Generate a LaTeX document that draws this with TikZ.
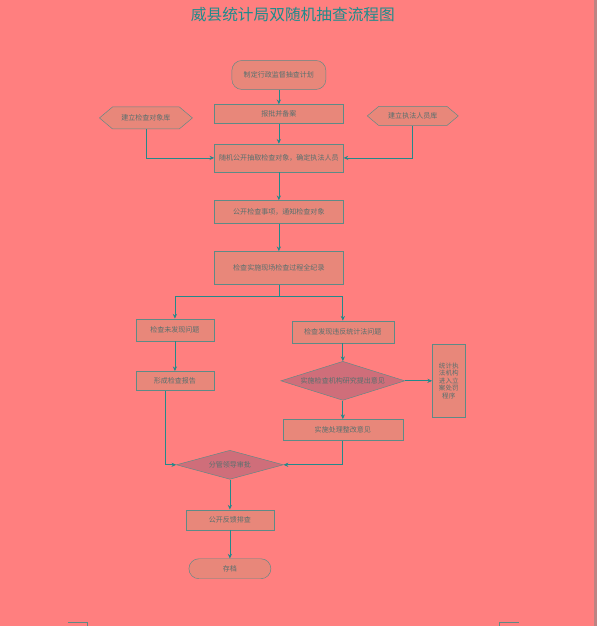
\documentclass[tikz,border=0pt]{standalone}
\usepackage{fontspec}
\setmainfont{Noto Sans CJK SC}
\usetikzlibrary{shapes.geometric,shapes.symbols,arrows.meta}
\definecolor{bgred}{HTML}{FF7F7F}
\definecolor{boxfill}{HTML}{E8877A}
\definecolor{diafill}{HTML}{CF6E7A}
\definecolor{boxline}{HTML}{5E8A86}
\definecolor{arrowteal}{HTML}{23898A}
\definecolor{txtgray}{HTML}{56706E}
\definecolor{titleteal}{HTML}{1E8C8C}
\begin{document}
\begin{tikzpicture}[x=0.03cm, y=-0.03cm,
    >={Stealth[length=4pt,width=3.6pt]},
    proc/.style={draw=boxline, rectangle, fill=boxfill, text=txtgray,
                 minimum width=3.87cm, minimum height=0.57cm, inner sep=1pt,
                 align=center, font=\fontsize{6}{7}\selectfont},
    term/.style={proc, rounded corners=0.3cm},
    lib/.style={proc, shape=signal, signal to=east and west,
                signal pointer angle=80, minimum width=2.79cm},
    check/.style={proc, diamond, fill=diafill, aspect=3, inner sep=0pt},
    link/.style={draw=arrowteal, line width=0.6pt}
]
    \fill[bgred] (0,0) rectangle (597,626);
    \fill[boxline!40!bgred] (594,0) rectangle (597,626);
    \draw[boxline, line width=0.5pt] (68,623) -- (87,623) -- (87,626);
    \draw[boxline, line width=0.5pt] (500,626) -- (500,623) -- (519,623);

    \node[text=titleteal, font=\fontsize{13.4}{15}\selectfont] (title) at (293,15) {威县统计局双随机抽查流程图};

    \node[term, minimum width=2.82cm, minimum height=0.87cm] (plan) at (279,75) {制定行政监督抽查计划};
    \node[proc] (file) at (279,114) {报批并备案};
    \node[lib, minimum height=0.66cm] (objlib) at (146,118) {建立检查对象库};
    \node[lib, minimum width=2.73cm] (stafflib) at (413,116) {建立执法人员库};
    \node[proc, minimum height=0.84cm] (pick) at (279,158) {随机公开抽取检查对象，确定执法人员};
    \node[proc, minimum height=0.69cm] (notice) at (279,212) {公开检查事项，通知检查对象};
    \node[proc, minimum height=0.99cm] (onsite) at (279,268) {检查实施现场检查过程全纪录};
    \coordinate (split) at (279,296);

    \node[proc, minimum width=2.34cm, minimum height=0.66cm] (noissue) at (175,330) {检查未发现问题};
    \node[proc, minimum width=3.06cm, minimum height=0.66cm] (issue) at (343,332) {检查发现违反统计法问题};
    \node[proc, minimum width=2.34cm] (report) at (175,381) {形成检查报告};
    \node[check, minimum width=3.72cm, minimum height=1.17cm] (review) at (343,381) {实施检查机构研究提出意见};
    \node[proc, minimum width=0.99cm, minimum height=2.19cm, font=\fontsize{5.6}{6.3}\selectfont] (case) at (449,381) {统计执\\法机构\\进入立\\案处罚\\程序};
    \node[proc, minimum width=3.6cm, minimum height=0.63cm] (rectify) at (343,430) {实施处理整改意见};

    \node[check, minimum width=3.21cm, minimum height=0.87cm] (approve) at (230,465) {分管领导审批};
    \node[proc, minimum width=2.64cm, minimum height=0.6cm] (publish) at (230,520) {公开反馈排查};
    \node[term, minimum width=2.46cm, minimum height=0.6cm] (archive) at (230,569) {存档};

    \draw[link, ->] (plan) -- (file);
    \draw[link, ->] (file) -- (pick);
    \draw[link, ->] (objlib.south) |- (pick.west);
    \draw[link, ->] (stafflib.south) |- (pick.east);
    \draw[link, ->] (pick) -- (notice);
    \draw[link, ->] (notice) -- (onsite);
    \draw[link] (onsite) -- (split);
    \draw[link, ->] (split) -| (noissue.north);
    \draw[link, ->] (split) -| (issue.north);
    \draw[link, ->] (noissue) -- (report);
    \draw[link, ->] (issue) -- (review);
    \draw[link, ->] (review) -- (case);
    \draw[link, ->] (review) -- (rectify);
    \draw[link, ->] ([xshift=-0.3cm]report.south) |- (approve.west);
    \draw[link, ->] (rectify.south) |- (approve.east);
    \draw[link, ->] (approve) -- (publish);
    \draw[link, ->] (publish) -- (archive);
\end{tikzpicture}
\end{document}
